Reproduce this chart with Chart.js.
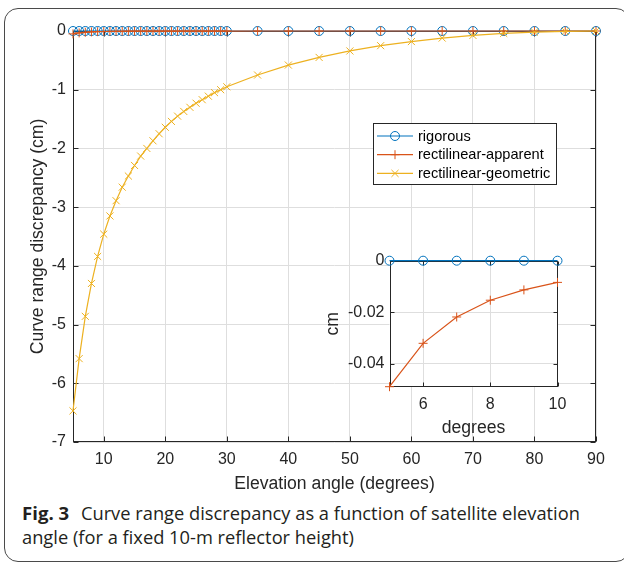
<!DOCTYPE html>
<html><head><meta charset="utf-8">
<script src="https://cdn.jsdelivr.net/npm/chart.js@4.4.1/dist/chart.umd.min.js"></script>
<style>
html,body{margin:0;padding:0;background:#fff;}
#wrap{position:relative;width:624px;height:563px;overflow:hidden;background:#fff;}
#frame{position:absolute;left:4px;top:8px;width:626px;height:554px;border:1.5px solid #4a4a4a;border-radius:14px;box-sizing:border-box;}
#main{position:absolute;left:0;top:0;}
#inset{position:absolute;left:320px;top:240px;}
#caption{position:absolute;left:22px;top:501px;width:610px;white-space:nowrap;font-family:"Open Sans","Noto Sans",sans-serif;font-size:18.3px;line-height:23.5px;color:#231f20;}
#caption b{font-weight:700;font-size:18.6px;margin-right:7px;}
</style>
</head><body>
<div id="wrap">
  <div id="frame"></div>
  <canvas id="main" width="624" height="500"></canvas>
  <canvas id="inset" width="260" height="200"></canvas>
  <div id="caption"><b>Fig. 3</b> Curve range discrepancy as a function of satellite elevation<br>angle (for a fixed 10-m reflector height)</div>
</div>
<script>
// ---- data ----
const angles = [5,6,7,8,9,10,11,12,13,14,15,16,17,18,19,20,21,22,23,24,25,26,27,28,29,30,35,40,45,50,55,60,65,70,75,80,85,90];
const rigorous = [0,0,0,0,0,0,0,0,0,0,0,0,0,0,0,0,0,0,0,0,0,0,0,0,0,0,0,0,0,0,0,0,0,0,0,0,0,0];
const apparent = [-0.0488,-0.0320,-0.0218,-0.0153,-0.0113,-0.0084,-0.0066,-0.0053,-0.0043,-0.0036,-0.0030,-0.0025,-0.0021,-0.0018,-0.0016,-0.0014,-0.0012,-0.0011,-0.0010,-0.0009,-0.0008,-0.0007,-0.0007,-0.0006,-0.0006,-0.0005,-0.0004,-0.0003,-0.0002,-0.0002,-0.0001,-0.0001,-0.0001,0,0,0,0,0];
const geometric = [-6.47,-5.58,-4.86,-4.30,-3.84,-3.46,-3.15,-2.89,-2.66,-2.47,-2.29,-2.13,-2.00,-1.87,-1.75,-1.64,-1.54,-1.45,-1.37,-1.30,-1.23,-1.17,-1.11,-1.05,-1.00,-0.95,-0.75,-0.58,-0.45,-0.34,-0.25,-0.18,-0.12,-0.075,-0.04,-0.018,-0.005,0];
const seriesNames = ["rigorous","rectilinear-apparent","rectilinear-geometric"];
const xTicks = [10,20,30,40,50,60,70,80,90];
const yTicks = [-7,-6,-5,-4,-3,-2,-1,0];
const insetMaxAngle = 10;
const insetXTicks = [6,8,10];
const insetYTicks = [-0.04,-0.02,0];

// ---- styles ----
const BLUE='#0072BD', ORANGE='#D95319', YELLOW='#EDB120';
const AXIS='#262626', GRID='#dedede';
const FONT='"Liberation Sans", Arial, Helvetica, sans-serif';
const tickFont={family:FONT,size:16};
const titleFont={family:FONT,size:17.6};

function pts(xs, ys){ return xs.map((x,i)=>({x:x,y:ys[i]})); }

function makeDatasets(xs, r, a, g){
  const ds=[
    {label:seriesNames[0],data:pts(xs,r),borderColor:BLUE,backgroundColor:'rgba(0,0,0,0)',pointStyle:'circle',pointRadius:4.5,pointBorderWidth:1,borderWidth:1.2,order:2},
    {label:seriesNames[1],data:pts(xs,a),borderColor:ORANGE,backgroundColor:ORANGE,pointStyle:'cross',pointRadius:4.5,pointBorderWidth:1,borderWidth:1.2,order:1}
  ];
  if(g) ds.push({label:seriesNames[2],data:pts(xs,g),borderColor:YELLOW,backgroundColor:YELLOW,pointStyle:'crossRot',pointRadius:5,pointBorderWidth:1,borderWidth:1.2,order:0});
  ds.forEach(d=>{d.tension=0;d.clip=false;d.fill=false;d.pointHoverRadius=d.pointRadius;});
  return ds;
}

const boxPlugin={
  id:'axesBox',
  beforeDraw(chart,args,o){
    if(!o.bg) return;
    const a=chart.chartArea, ctx=chart.ctx;
    ctx.save(); ctx.fillStyle='#fff';
    ctx.fillRect(a.left,a.top,a.right-a.left,a.bottom-a.top);
    ctx.restore();
  },
  beforeDatasetsDraw(chart,args,o){
    const {ctx,chartArea:a,scales:{x,y}}=chart;
    ctx.save();
    ctx.strokeStyle=AXIS; ctx.lineWidth=1;
    const L=Math.round(a.left)+0.5,R=Math.round(a.right)-0.5,T=Math.round(a.top)+0.5,B=Math.round(a.bottom)-0.5;
    ctx.strokeRect(L,T,R-L,B-T);
    const tl=o.tickLen||5;
    ctx.beginPath();
    x.ticks.forEach(t=>{const p=Math.round(x.getPixelForValue(t.value))+0.5;ctx.moveTo(p,B);ctx.lineTo(p,B-tl);ctx.moveTo(p,T);ctx.lineTo(p,T+tl);});
    y.ticks.forEach(t=>{const p=Math.round(y.getPixelForValue(t.value))+0.5;ctx.moveTo(L,p);ctx.lineTo(L+tl,p);ctx.moveTo(R,p);ctx.lineTo(R-tl,p);});
    ctx.stroke();
    ctx.restore();
  }
};

const legendPlugin={
  id:'boxLegend',
  afterDraw(chart,args,o){
    if(!o.show) return;
    const ctx=chart.ctx;
    ctx.save();
    ctx.fillStyle='#fff'; ctx.fillRect(o.x,o.y,o.w,o.h);
    ctx.strokeStyle=AXIS; ctx.lineWidth=1; ctx.strokeRect(o.x+0.5,o.y+0.5,o.w,o.h);
    chart.data.datasets.forEach((ds,i)=>{
      const cy=o.y+o.row0+i*o.rowH;
      ctx.strokeStyle=ds.borderColor; ctx.lineWidth=ds.borderWidth;
      ctx.beginPath(); ctx.moveTo(o.x+o.l0,cy); ctx.lineTo(o.x+o.l1,cy); ctx.stroke();
      ctx.fillStyle=ds.backgroundColor; ctx.strokeStyle=ds.borderColor; ctx.lineWidth=ds.pointBorderWidth;
      Chart.helpers.drawPoint(ctx,{pointStyle:ds.pointStyle,radius:ds.pointRadius,borderWidth:ds.pointBorderWidth,rotation:0},o.x+(o.l0+o.l1)/2,cy);
      ctx.fillStyle='#000'; ctx.font='14.6px '+FONT; ctx.textBaseline='middle'; ctx.textAlign='left';
      ctx.fillText(ds.label,o.x+o.tx,cy+0.5);
    });
    ctx.restore();
  }
};

function axis(opts){
  return Object.assign({
    type:'linear',
    grid:{color:GRID,lineWidth:1,drawTicks:false},
    border:{display:false},
  },opts);
}

// ---- main chart ----
new Chart(document.getElementById('main'),{
  type:'line',
  data:{datasets:makeDatasets(angles,rigorous,apparent,geometric)},
  plugins:[boxPlugin,legendPlugin],
  options:{
    responsive:false,animation:false,devicePixelRatio:1,
    layout:{padding:{left:0,top:31,right:28,bottom:0}},
    plugins:{legend:{display:false},tooltip:{enabled:false},
      axesBox:{tickLen:5},
      boxLegend:{show:true,x:373,y:123,w:183,h:61,row0:13,rowH:18.7,l0:4,l1:40,tx:45}},
    scales:{
      x:axis({min:5,max:90,
        afterBuildTicks(s){s.ticks=xTicks.map(v=>({value:v}));},
        afterFit(s){s.height=58;},
        ticks:{font:tickFont,color:AXIS,padding:8,maxRotation:0,autoSkip:false},
        title:{display:true,text:'Elevation angle (degrees)',font:titleFont,color:AXIS,padding:{top:0,bottom:5.4}}}),
      y:axis({min:-7,max:0,
        afterBuildTicks(s){s.ticks=yTicks.map(v=>({value:v}));},
        afterFit(s){s.width=73;},
        ticks:{font:tickFont,color:AXIS,padding:7,autoSkip:false},
        title:{display:true,text:'Curve range discrepancy (cm)',font:titleFont,color:AXIS,padding:{top:27.4,bottom:0}}})
    }
  }
});

// ---- inset chart ----
const nIn=angles.filter(a=>a<=insetMaxAngle).length;
const inAngles=angles.slice(0,nIn), inRig=rigorous.slice(0,nIn), inApp=apparent.slice(0,nIn);
new Chart(document.getElementById('inset'),{
  type:'line',
  data:{datasets:makeDatasets(inAngles,inRig,inApp,null)},
  plugins:[boxPlugin],
  options:{
    responsive:false,animation:false,devicePixelRatio:1,
    layout:{padding:{left:0,top:20.7,right:22.5,bottom:0}},
    plugins:{legend:{display:false},tooltip:{enabled:false},axesBox:{tickLen:4,bg:true}},
    scales:{
      x:axis({min:inAngles[0],max:insetMaxAngle,
        afterBuildTicks(s){s.ticks=insetXTicks.map(v=>({value:v}));},
        afterFit(s){s.height=53.3;},
        ticks:{font:tickFont,color:AXIS,padding:8,maxRotation:0,autoSkip:false},
        title:{display:true,text:'degrees',font:titleFont,color:AXIS,padding:{top:0,bottom:1.4}}}),
      y:axis({min:Math.min(...inApp),max:0,
        afterBuildTicks(s){s.ticks=insetYTicks.map(v=>({value:v}));},
        afterFit(s){s.width=69.5;},
        ticks:{font:tickFont,color:AXIS,padding:5,autoSkip:false,callback:v=>String(v)},
        title:{display:true,text:'cm',font:titleFont,color:AXIS,padding:{top:2.4,bottom:0}}})
    }
  }
});
</script>
</body></html>
